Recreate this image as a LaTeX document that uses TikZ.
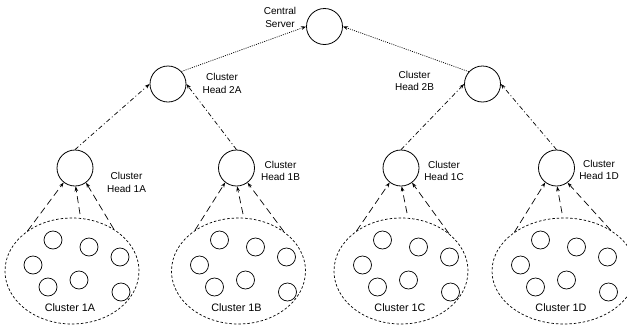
\documentclass[tikz,border=0pt]{standalone}
\usepackage{fontspec}
\setmainfont{Liberation Sans}
\usetikzlibrary{arrows.meta,shapes.geometric}
\begin{document}
\begin{tikzpicture}[x=1pt,y=-1pt,
  head/.style={circle,draw,line width=0.8pt,minimum size=36pt,inner sep=0pt},
  member/.style={circle,draw,line width=0.7pt,minimum size=18pt,inner sep=0pt},
  clus/.style={ellipse,draw,line width=0.7pt,dash pattern=on 2.5pt off 2pt,inner sep=0pt,minimum height=106pt},
  hlabel/.style={font=\fontsize{10}{12.5}\selectfont,align=center,inner sep=0pt},
  clabel/.style={font=\fontsize{10.8}{13}\selectfont,inner sep=0pt},
  tip/.style={-{Stealth[length=5pt,width=3.6pt]}},
  uplink/.style={tip,line width=0.7pt,dash pattern=on 7pt off 4pt},
  midlink/.style={tip,line width=0.7pt,dash pattern=on 4.5pt off 2.5pt on 1pt off 2.5pt},
  toplink/.style={tip,line width=0.7pt,dash pattern=on 1pt off 1.2pt}]
\useasboundingbox (0,0) rectangle (627,330);

% central server and level-2 heads
\node[head] (cs) at (324.5,26.5) {};
\node[hlabel] (cslab) at (280,17.5) {Central\\Server};
\node[head] (h2a) at (168,84) {};
\node[hlabel] (h2alab) at (222,83.5) {Cluster\\Head 2A};
\node[head] (h2b) at (482.5,84) {};
\node[hlabel] (h2blab) at (414.5,81) {Cluster\\Head 2B};

% level-1 heads
\node[head] (h1a) at (75,168) {};
\node[hlabel] (h1alab) at (126.5,182.5) {Cluster\\Head 1A};
\node[head] (h1b) at (236.5,168) {};
\node[hlabel] (h1blab) at (280.5,171) {Cluster\\Head 1B};
\node[head] (h1c) at (401,168) {};
\node[hlabel] (h1clab) at (444,171) {Cluster\\Head 1C};
\node[head] (h1d) at (556.5,168) {};
\node[hlabel] (h1dlab) at (599,170) {Cluster\\Head 1D};

% clusters
\node[clus,minimum width=134pt] (c1a) at (72,271) {};
\node[clus,minimum width=134pt] (c1b) at (238.5,271) {};
\node[clus,minimum width=134pt] (c1c) at (401,271) {};
\node[clus,minimum width=144pt] (c1d) at (564,271) {};

\node[clabel] (l1a) at (70,307.5) {Cluster 1A};
\node[clabel] (l1b) at (236.5,307.5) {Cluster 1B};
\node[clabel] (l1c) at (400,307.5) {Cluster 1C};
\node[clabel] (l1d) at (561,307.5) {Cluster 1D};

% members
\foreach \cx/\nm in {69/a,235.5/b,398.5/c,556.5/d}{
  \foreach \dx/\dy [count=\i] in {-16/-30.5,20/-23.5,51/-13.5,-36/-5.5,10/9.5,-21/16.5,52/21.5}{
    \node[member] (m\nm\i) at (\cx+\dx,270.5+\dy) {};
  }
}

% middle start points of the member links (just above each cluster)
\coordinate (s1a) at (80,214);
\coordinate (s1b) at (243,214);
\coordinate (s1c) at (407,213);
\coordinate (s1d) at (562,213);

\foreach \h/\la/\ra in {1a/138/45,1b/137/41,1c/138/38,1d/142/41}{
  \draw[uplink] (c\h.\la) -- (h\h.232);
  \draw[uplink] (s\h) -- (h\h.272);
  \draw[uplink] (c\h.\ra) -- (h\h.307);
}

% level 1 -> level 2
\draw[midlink] (h1a.north) -- (h2a.west);
\draw[midlink] (h1b.north) -- (h2a.east);
\draw[midlink] (h1c.north) -- (h2b.west);
\draw[midlink] (h1d.north) -- (h2b.east);

% level 2 -> central
\draw[toplink] (h2a.43) -- (cs.west);
\draw[toplink] (h2b.138) -- (cs.east);
\end{tikzpicture}
\end{document}
